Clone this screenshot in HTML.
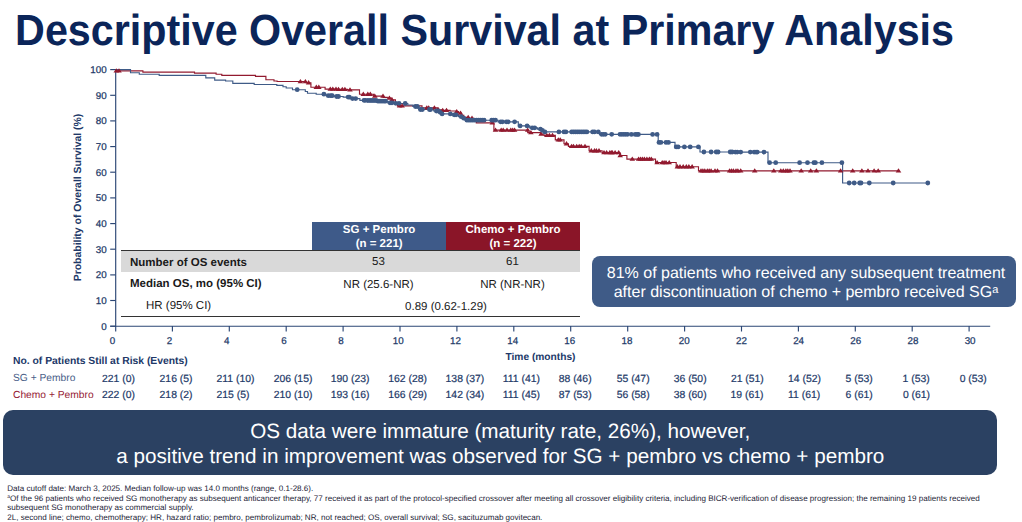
<!DOCTYPE html>
<html><head><meta charset="utf-8">
<style>
html,body{margin:0;padding:0;background:#fff;}
body{text-rendering:geometricPrecision;width:1022px;height:522px;position:relative;overflow:hidden;font-family:"Liberation Sans",sans-serif;}
.abs{position:absolute;white-space:nowrap;}
.title{left:15.1px;top:6.6px;font-size:41.27px;font-weight:bold;color:#0b2559;line-height:48px;letter-spacing:0px;transform-origin:0 38.35px;transform:scaleY(1.055);}
.yt{-webkit-text-stroke:0.25px #223968;position:absolute;left:69.6px;width:37px;text-align:right;font-size:9.8px;line-height:11px;color:#223968;}
.xt{-webkit-text-stroke:0.25px #223968;position:absolute;top:335.9px;width:30px;text-align:center;font-size:9.8px;line-height:11px;color:#223968;}
.rk{-webkit-text-stroke:0.2px #223968;position:absolute;text-align:left;font-size:10.4px;line-height:11px;color:#223968;white-space:nowrap;}
.ylab{position:absolute;left:0;top:0;transform-origin:0 0;transform:translate(72.5px,281.3px) rotate(-90deg);font-size:10.45px;font-weight:bold;color:#213868;white-space:nowrap;line-height:11px;}
</style></head><body>
<div class="abs title">Descriptive Overall Survival at Primary Analysis</div>
<svg width="1022" height="522" style="position:absolute;left:0;top:0"><g stroke="#2c4775" stroke-width="1.15" fill="none"><path d="M115.7,68.9 V331.5 M110.2,326.2 H990.2"/><path d="M110.2,326.2 H115.5"/><path d="M110.2,300.5 H115.5"/><path d="M110.2,274.9 H115.5"/><path d="M110.2,249.2 H115.5"/><path d="M110.2,223.6 H115.5"/><path d="M110.2,197.9 H115.5"/><path d="M110.2,172.2 H115.5"/><path d="M110.2,146.6 H115.5"/><path d="M110.2,120.9 H115.5"/><path d="M110.2,95.3 H115.5"/><path d="M110.2,69.6 H115.5"/><path d="M172.4,326 V331.5"/><path d="M229.3,326 V331.5"/><path d="M286.2,326 V331.5"/><path d="M343.1,326 V331.5"/><path d="M400.0,326 V331.5"/><path d="M456.9,326 V331.5"/><path d="M513.8,326 V331.5"/><path d="M570.7,326 V331.5"/><path d="M627.7,326 V331.5"/><path d="M684.6,326 V331.5"/><path d="M741.5,326 V331.5"/><path d="M798.4,326 V331.5"/><path d="M855.3,326 V331.5"/><path d="M912.2,326 V331.5"/><path d="M969.1,326 V331.5"/></g><path d="M115.7,70.8 L142.5,70.8 L142.9,70.8 L142.9,72.1 L143.4,72.1 L194.4,72.1 L194.5,72.1 L194.5,73.1 L194.6,73.1 L216.0,73.1 L216.1,73.1 L216.1,74.2 L216.2,74.2 L221.7,74.2 L221.8,74.2 L221.8,75.3 L221.9,75.3 L255.4,75.3 L255.5,75.3 L255.5,76.3 L255.6,76.3 L265.0,76.3 L265.9,76.3 L265.9,79.7 L266.9,79.7 L273.9,79.7 L274.0,79.7 L274.0,81.0 L274.1,81.0 L277.1,81.0 L277.1,81.5 L280.0,81.5 L306.0,81.5 L306.1,81.5 L306.1,82.7 L306.2,82.7 L310.0,82.7 L310.9,82.7 L310.9,87.2 L311.8,87.2 L322.0,87.2 L325.1,87.2 L325.1,89.1 L328.3,89.1 L336.6,89.1 L336.6,89.4 L345.0,89.4 L347.5,89.4 L347.5,89.9 L350.0,89.9 L357.6,89.9 L359.5,89.9 L359.5,94.2 L361.4,94.2 L372.0,94.2 L373.7,94.2 L373.7,96.1 L375.4,96.1 L380.5,96.1 L383.1,96.1 L383.1,97.3 L385.6,97.3 L387.3,97.3 L387.3,98.0 L389.0,98.0 L391.8,98.0 L391.8,99.9 L394.5,99.9 L395.4,99.9 L395.4,103.1 L396.4,103.1 L397.4,103.1 L397.4,105.9 L398.3,105.9 L421.7,105.9 L422.0,105.9 L422.0,107.8 L422.4,107.8 L437.0,107.8 L437.5,107.8 L437.5,109.7 L438.0,109.7 L441.5,109.7 L441.5,110.4 L445.0,110.4 L449.7,110.4 L450.1,110.4 L450.1,111.0 L450.5,111.0 L456.0,111.0 L456.5,111.0 L456.5,111.6 L457.0,111.6 L458.5,111.6 L458.5,113.0 L460.0,113.0 L461.2,113.0 L461.2,115.2 L462.5,115.2 L463.8,115.2 L463.8,117.4 L465.0,117.4 L468.5,117.4 L468.5,118.2 L472.0,118.2 L473.4,118.2 L473.4,120.5 L474.9,120.5 L476.3,120.5 L476.3,122.8 L477.7,122.8 L492.3,122.8 L493.9,122.8 L493.9,130.1 L495.5,130.1 L526.4,130.1 L527.7,130.1 L527.7,132.6 L529.0,132.6 L539.2,132.6 L540.8,132.6 L540.8,134.0 L542.4,134.0 L543.9,134.0 L543.9,135.4 L545.5,135.4 L554.4,135.4 L555.3,135.4 L555.3,139.9 L556.3,139.9 L562.7,139.9 L564.0,139.9 L564.0,143.7 L565.3,143.7 L567.0,143.7 L568.4,143.7 L568.4,146.3 L569.7,146.3 L588.2,146.3 L589.1,146.3 L589.1,150.7 L590.0,150.7 L601.5,150.7 L602.1,150.7 L602.1,152.6 L602.8,152.6 L619.3,152.6 L619.8,152.6 L619.8,155.5 L620.2,155.5 L626.5,155.5 L626.9,155.5 L626.9,159.1 L627.2,159.1 L655.2,159.1 L655.5,159.1 L655.5,162.5 L655.8,162.5 L676.2,162.5 L676.2,162.5 L676.2,166.7 L676.3,166.7 L698.4,166.7 L698.5,166.7 L698.5,170.9 L698.5,170.9 L899.5,170.9" stroke="#921a2f" stroke-width="1.15" fill="none" stroke-linejoin="miter"/><path d="M115.7,69.6 L129.0,69.6 L130.5,69.6 L130.5,72.7 L132.0,72.7 L138.6,72.7 L139.3,72.7 L139.3,74.2 L140.0,74.2 L158.3,74.2 L159.2,74.2 L159.2,75.3 L160.2,75.3 L203.9,75.3 L205.8,75.3 L205.8,77.8 L207.7,77.8 L213.4,77.8 L214.7,77.8 L214.7,80.1 L216.0,80.1 L224.9,80.1 L225.6,80.1 L225.6,81.0 L226.2,81.0 L231.2,81.0 L232.8,81.0 L232.8,83.3 L234.4,83.3 L253.5,83.3 L254.2,83.3 L254.2,84.5 L254.8,84.5 L275.8,84.5 L276.8,84.5 L276.8,85.4 L277.7,85.4 L282.0,85.4 L283.0,85.4 L283.0,86.7 L284.0,86.7 L286.2,86.7 L286.2,88.0 L288.5,88.0 L292.5,88.0 L292.5,89.7 L296.5,89.7 L304.2,89.7 L305.3,89.7 L305.3,91.5 L306.4,91.5 L307.5,91.5 L307.5,93.2 L308.6,93.2 L316.2,93.2 L316.2,94.2 L323.9,94.2 L326.1,94.2 L326.1,95.7 L328.3,95.7 L332.2,95.7 L334.4,95.7 L334.4,96.5 L336.6,96.5 L338.5,96.5 L343.2,96.5 L343.2,97.1 L348.0,97.1 L350.2,97.1 L350.2,98.6 L352.5,98.6 L355.7,98.6 L359.9,98.6 L359.9,100.3 L364.0,100.3 L365.9,100.3 L365.9,100.5 L367.8,100.5 L376.7,100.5 L376.7,101.2 L385.6,101.2 L387.8,101.2 L387.8,102.8 L390.0,102.8 L392.9,102.8 L392.9,103.3 L395.8,103.3 L400.5,103.3 L400.5,103.5 L405.2,103.5 L407.8,103.5 L407.8,105.0 L410.3,105.0 L412.8,105.0 L412.8,106.5 L415.4,106.5 L417.3,106.5 L418.9,106.5 L418.9,109.5 L420.4,109.5 L431.0,109.5 L433.7,109.5 L433.7,111.0 L436.4,111.0 L438.3,111.0 L439.2,111.0 L439.2,112.3 L440.2,112.3 L441.1,112.3 L441.1,113.9 L442.1,113.9 L450.3,113.9 L452.2,113.9 L452.2,114.8 L454.2,114.8 L456.1,114.8 L458.6,114.8 L458.6,116.7 L461.2,116.7 L462.4,116.7 L462.4,118.2 L463.7,118.2 L465.3,118.2 L465.3,120.2 L466.9,120.2 L495.5,120.2 L498.1,120.2 L498.1,121.8 L500.6,121.8 L516.5,121.8 L518.3,121.8 L518.3,125.9 L520.1,125.9 L527.1,125.9 L529.7,125.9 L529.7,127.8 L532.2,127.8 L534.7,127.8 L537.5,127.8 L537.5,129.1 L540.4,129.1 L541.4,129.1 L541.4,130.4 L542.4,130.4 L543.6,130.4 L543.6,131.9 L544.9,131.9 L598.3,131.9 L599.6,131.9 L599.6,134.3 L600.9,134.3 L629.5,134.3 L629.5,134.4 L658.1,134.4 L658.2,134.4 L658.2,142.4 L658.2,142.4 L674.9,142.4 L675.0,142.4 L675.0,146.9 L675.0,146.9 L699.0,146.9 L700.0,146.9 L700.0,152.0 L701.0,152.0 L734.4,152.0 L734.4,152.1 L767.8,152.1 L768.0,152.1 L768.0,162.7 L768.3,162.7 L842.2,162.7 L842.6,162.7 L842.6,183.0 L842.9,183.0 L927.8,183.0" stroke="#3f5b87" stroke-width="1.15" fill="none" stroke-linejoin="miter"/><path d="M113.5,72.5 L119.1,72.5 L116.3,68.2 Z" fill="#921a2f"/><path d="M116.2,72.5 L121.8,72.5 L119.0,68.2 Z" fill="#921a2f"/><path d="M297.6,83.2 L303.2,83.2 L300.4,78.9 Z" fill="#921a2f"/><path d="M302.6,83.2 L308.2,83.2 L305.4,78.9 Z" fill="#921a2f"/><path d="M305.8,84.4 L311.4,84.4 L308.6,80.1 Z" fill="#921a2f"/><path d="M313.5,88.9 L319.1,88.9 L316.3,84.6 Z" fill="#921a2f"/><path d="M316.0,88.9 L321.6,88.9 L318.8,84.6 Z" fill="#921a2f"/><path d="M327.5,90.8 L333.1,90.8 L330.3,86.5 Z" fill="#921a2f"/><path d="M330.0,90.8 L335.6,90.8 L332.8,86.5 Z" fill="#921a2f"/><path d="M333.2,90.8 L338.8,90.8 L336.0,86.5 Z" fill="#921a2f"/><path d="M335.7,91.1 L341.3,91.1 L338.5,86.8 Z" fill="#921a2f"/><path d="M339.5,91.1 L345.1,91.1 L342.3,86.8 Z" fill="#921a2f"/><path d="M342.1,91.1 L347.7,91.1 L344.9,86.8 Z" fill="#921a2f"/><path d="M347.2,91.6 L352.8,91.6 L350.0,87.3 Z" fill="#921a2f"/><path d="M360.5,95.9 L366.1,95.9 L363.3,91.6 Z" fill="#921a2f"/><path d="M365.0,95.9 L370.6,95.9 L367.8,91.6 Z" fill="#921a2f"/><path d="M367.5,95.9 L373.1,95.9 L370.3,91.6 Z" fill="#921a2f"/><path d="M372.0,97.8 L377.6,97.8 L374.8,93.5 Z" fill="#921a2f"/><path d="M380.2,97.8 L385.8,97.8 L383.0,93.5 Z" fill="#921a2f"/><path d="M386.6,99.7 L392.2,99.7 L389.4,95.4 Z" fill="#921a2f"/><path d="M389.2,101.6 L394.8,101.6 L392.0,97.3 Z" fill="#921a2f"/><path d="M396.8,107.6 L402.4,107.6 L399.6,103.3 Z" fill="#921a2f"/><path d="M399.3,107.6 L404.9,107.6 L402.1,103.3 Z" fill="#921a2f"/><path d="M424.0,109.5 L429.6,109.5 L426.8,105.2 Z" fill="#921a2f"/><path d="M425.9,109.5 L431.5,109.5 L428.7,105.2 Z" fill="#921a2f"/><path d="M431.6,109.5 L437.2,109.5 L434.4,105.2 Z" fill="#921a2f"/><path d="M435.5,111.4 L441.1,111.4 L438.3,107.1 Z" fill="#921a2f"/><path d="M439.9,112.1 L445.5,112.1 L442.7,107.8 Z" fill="#921a2f"/><path d="M443.7,112.1 L449.3,112.1 L446.5,107.8 Z" fill="#921a2f"/><path d="M453.9,113.3 L459.5,113.3 L456.7,109.0 Z" fill="#921a2f"/><path d="M457.7,114.7 L463.3,114.7 L460.5,110.4 Z" fill="#921a2f"/><path d="M465.4,119.1 L471.0,119.1 L468.2,114.8 Z" fill="#921a2f"/><path d="M469.2,119.9 L474.8,119.9 L472.0,115.6 Z" fill="#921a2f"/><path d="M489.5,124.5 L495.1,124.5 L492.3,120.2 Z" fill="#921a2f"/><path d="M492.7,131.8 L498.3,131.8 L495.5,127.5 Z" fill="#921a2f"/><path d="M498.4,131.8 L504.0,131.8 L501.2,127.5 Z" fill="#921a2f"/><path d="M500.4,131.8 L506.0,131.8 L503.2,127.5 Z" fill="#921a2f"/><path d="M504.2,131.8 L509.8,131.8 L507.0,127.5 Z" fill="#921a2f"/><path d="M508.0,131.8 L513.6,131.8 L510.8,127.5 Z" fill="#921a2f"/><path d="M509.9,131.8 L515.5,131.8 L512.7,127.5 Z" fill="#921a2f"/><path d="M511.8,131.8 L517.4,131.8 L514.6,127.5 Z" fill="#921a2f"/><path d="M524.9,131.8 L530.5,131.8 L527.7,127.5 Z" fill="#921a2f"/><path d="M528.1,134.3 L533.7,134.3 L530.9,130.0 Z" fill="#921a2f"/><path d="M538.3,135.7 L543.9,135.7 L541.1,131.4 Z" fill="#921a2f"/><path d="M544.0,137.1 L549.6,137.1 L546.8,132.8 Z" fill="#921a2f"/><path d="M546.6,137.1 L552.2,137.1 L549.4,132.8 Z" fill="#921a2f"/><path d="M549.7,137.1 L555.3,137.1 L552.5,132.8 Z" fill="#921a2f"/><path d="M555.5,141.6 L561.1,141.6 L558.3,137.3 Z" fill="#921a2f"/><path d="M557.4,141.6 L563.0,141.6 L560.2,137.3 Z" fill="#921a2f"/><path d="M563.7,145.4 L569.3,145.4 L566.5,141.1 Z" fill="#921a2f"/><path d="M568.8,148.0 L574.4,148.0 L571.6,143.7 Z" fill="#921a2f"/><path d="M570.7,148.0 L576.3,148.0 L573.5,143.7 Z" fill="#921a2f"/><path d="M573.9,148.0 L579.5,148.0 L576.7,143.7 Z" fill="#921a2f"/><path d="M576.4,148.0 L582.0,148.0 L579.2,143.7 Z" fill="#921a2f"/><path d="M578.4,148.0 L584.0,148.0 L581.2,143.7 Z" fill="#921a2f"/><path d="M582.2,148.0 L587.8,148.0 L585.0,143.7 Z" fill="#921a2f"/><path d="M588.5,152.4 L594.1,152.4 L591.3,148.1 Z" fill="#921a2f"/><path d="M591.7,152.4 L597.3,152.4 L594.5,148.1 Z" fill="#921a2f"/><path d="M593.6,152.4 L599.2,152.4 L596.4,148.1 Z" fill="#921a2f"/><path d="M596.2,152.4 L601.8,152.4 L599.0,148.1 Z" fill="#921a2f"/><path d="M601.2,154.3 L606.8,154.3 L604.0,150.0 Z" fill="#921a2f"/><path d="M603.8,154.3 L609.4,154.3 L606.6,150.0 Z" fill="#921a2f"/><path d="M607.0,154.3 L612.6,154.3 L609.8,150.0 Z" fill="#921a2f"/><path d="M609.5,154.3 L615.1,154.3 L612.3,150.0 Z" fill="#921a2f"/><path d="M615.9,154.3 L621.5,154.3 L618.7,150.0 Z" fill="#921a2f"/><path d="M608.5,154.3 L614.1,154.3 L611.3,150.0 Z" fill="#921a2f"/><path d="M612.3,154.3 L617.9,154.3 L615.1,150.0 Z" fill="#921a2f"/><path d="M617.4,157.2 L623.0,157.2 L620.2,152.9 Z" fill="#921a2f"/><path d="M629.5,160.8 L635.1,160.8 L632.3,156.5 Z" fill="#921a2f"/><path d="M635.8,160.8 L641.4,160.8 L638.6,156.5 Z" fill="#921a2f"/><path d="M637.7,160.8 L643.3,160.8 L640.5,156.5 Z" fill="#921a2f"/><path d="M639.6,160.8 L645.2,160.8 L642.4,156.5 Z" fill="#921a2f"/><path d="M641.6,160.8 L647.2,160.8 L644.4,156.5 Z" fill="#921a2f"/><path d="M644.1,160.8 L649.7,160.8 L646.9,156.5 Z" fill="#921a2f"/><path d="M646.6,160.8 L652.2,160.8 L649.4,156.5 Z" fill="#921a2f"/><path d="M648.5,160.8 L654.1,160.8 L651.3,156.5 Z" fill="#921a2f"/><path d="M654.3,164.2 L659.9,164.2 L657.1,159.9 Z" fill="#921a2f"/><path d="M659.4,164.2 L665.0,164.2 L662.2,159.9 Z" fill="#921a2f"/><path d="M661.3,164.2 L666.9,164.2 L664.1,159.9 Z" fill="#921a2f"/><path d="M663.2,164.2 L668.8,164.2 L666.0,159.9 Z" fill="#921a2f"/><path d="M666.4,164.2 L672.0,164.2 L669.2,159.9 Z" fill="#921a2f"/><path d="M674.6,168.4 L680.2,168.4 L677.4,164.1 Z" fill="#921a2f"/><path d="M677.2,168.4 L682.8,168.4 L680.0,164.1 Z" fill="#921a2f"/><path d="M680.4,168.4 L686.0,168.4 L683.2,164.1 Z" fill="#921a2f"/><path d="M683.5,168.4 L689.1,168.4 L686.3,164.1 Z" fill="#921a2f"/><path d="M686.1,168.4 L691.7,168.4 L688.9,164.1 Z" fill="#921a2f"/><path d="M689.3,168.4 L694.9,168.4 L692.1,164.1 Z" fill="#921a2f"/><path d="M698.2,172.6 L703.8,172.6 L701.0,168.3 Z" fill="#921a2f"/><path d="M700.1,172.6 L705.7,172.6 L702.9,168.3 Z" fill="#921a2f"/><path d="M702.0,172.6 L707.6,172.6 L704.8,168.3 Z" fill="#921a2f"/><path d="M704.5,172.6 L710.1,172.6 L707.3,168.3 Z" fill="#921a2f"/><path d="M706.4,172.6 L712.0,172.6 L709.2,168.3 Z" fill="#921a2f"/><path d="M708.3,172.6 L713.9,172.6 L711.1,168.3 Z" fill="#921a2f"/><path d="M712.2,172.6 L717.8,172.6 L715.0,168.3 Z" fill="#921a2f"/><path d="M714.7,172.6 L720.3,172.6 L717.5,168.3 Z" fill="#921a2f"/><path d="M726.8,172.6 L732.4,172.6 L729.6,168.3 Z" fill="#921a2f"/><path d="M728.7,172.6 L734.3,172.6 L731.5,168.3 Z" fill="#921a2f"/><path d="M730.6,172.6 L736.2,172.6 L733.4,168.3 Z" fill="#921a2f"/><path d="M733.2,172.6 L738.8,172.6 L736.0,168.3 Z" fill="#921a2f"/><path d="M735.1,172.6 L740.7,172.6 L737.9,168.3 Z" fill="#921a2f"/><path d="M737.9,172.6 L743.5,172.6 L740.7,168.3 Z" fill="#921a2f"/><path d="M751.9,172.6 L757.5,172.6 L754.7,168.3 Z" fill="#921a2f"/><path d="M771.0,172.6 L776.6,172.6 L773.8,168.3 Z" fill="#921a2f"/><path d="M778.0,172.6 L783.6,172.6 L780.8,168.3 Z" fill="#921a2f"/><path d="M780.5,172.6 L786.1,172.6 L783.3,168.3 Z" fill="#921a2f"/><path d="M783.1,172.6 L788.7,172.6 L785.9,168.3 Z" fill="#921a2f"/><path d="M785.0,172.6 L790.6,172.6 L787.8,168.3 Z" fill="#921a2f"/><path d="M787.2,172.6 L792.8,172.6 L790.0,168.3 Z" fill="#921a2f"/><path d="M798.4,172.6 L804.0,172.6 L801.2,168.3 Z" fill="#921a2f"/><path d="M807.9,172.6 L813.5,172.6 L810.7,168.3 Z" fill="#921a2f"/><path d="M813.6,172.6 L819.2,172.6 L816.4,168.3 Z" fill="#921a2f"/><path d="M837.8,172.6 L843.4,172.6 L840.6,168.3 Z" fill="#921a2f"/><path d="M849.9,172.6 L855.5,172.6 L852.7,168.3 Z" fill="#921a2f"/><path d="M859.1,172.6 L864.7,172.6 L861.9,168.3 Z" fill="#921a2f"/><path d="M865.2,172.6 L870.8,172.6 L868.0,168.3 Z" fill="#921a2f"/><path d="M871.3,172.6 L876.9,172.6 L874.1,168.3 Z" fill="#921a2f"/><path d="M875.4,172.6 L881.0,172.6 L878.2,168.3 Z" fill="#921a2f"/><path d="M895.7,172.6 L901.3,172.6 L898.5,168.3 Z" fill="#921a2f"/><circle cx="297.2" cy="89.7" r="2.4" fill="#3f5b87"/><circle cx="323.9" cy="94.2" r="2.4" fill="#3f5b87"/><circle cx="328.3" cy="95.7" r="2.4" fill="#3f5b87"/><circle cx="330.9" cy="95.7" r="2.4" fill="#3f5b87"/><circle cx="332.2" cy="95.7" r="2.4" fill="#3f5b87"/><circle cx="336.6" cy="96.5" r="2.4" fill="#3f5b87"/><circle cx="338.5" cy="96.5" r="2.4" fill="#3f5b87"/><circle cx="348.1" cy="97.1" r="2.4" fill="#3f5b87"/><circle cx="349.3" cy="97.1" r="2.4" fill="#3f5b87"/><circle cx="352.5" cy="98.6" r="2.4" fill="#3f5b87"/><circle cx="355.7" cy="98.6" r="2.4" fill="#3f5b87"/><circle cx="364.0" cy="100.3" r="2.4" fill="#3f5b87"/><circle cx="365.2" cy="100.3" r="2.4" fill="#3f5b87"/><circle cx="367.8" cy="100.5" r="2.4" fill="#3f5b87"/><circle cx="370.0" cy="100.5" r="2.4" fill="#3f5b87"/><circle cx="372.0" cy="100.5" r="2.4" fill="#3f5b87"/><circle cx="374.0" cy="100.5" r="2.4" fill="#3f5b87"/><circle cx="376.0" cy="100.5" r="2.4" fill="#3f5b87"/><circle cx="378.0" cy="101.2" r="2.4" fill="#3f5b87"/><circle cx="380.0" cy="101.2" r="2.4" fill="#3f5b87"/><circle cx="382.0" cy="101.2" r="2.4" fill="#3f5b87"/><circle cx="384.0" cy="101.2" r="2.4" fill="#3f5b87"/><circle cx="385.6" cy="101.2" r="2.4" fill="#3f5b87"/><circle cx="390.0" cy="102.8" r="2.4" fill="#3f5b87"/><circle cx="392.0" cy="102.8" r="2.4" fill="#3f5b87"/><circle cx="395.8" cy="103.3" r="2.4" fill="#3f5b87"/><circle cx="399.0" cy="103.3" r="2.4" fill="#3f5b87"/><circle cx="405.2" cy="103.5" r="2.4" fill="#3f5b87"/><circle cx="415.4" cy="106.5" r="2.4" fill="#3f5b87"/><circle cx="417.3" cy="106.5" r="2.4" fill="#3f5b87"/><circle cx="420.4" cy="109.5" r="2.4" fill="#3f5b87"/><circle cx="422.4" cy="109.5" r="2.4" fill="#3f5b87"/><circle cx="429.4" cy="109.5" r="2.4" fill="#3f5b87"/><circle cx="430.6" cy="109.5" r="2.4" fill="#3f5b87"/><circle cx="436.4" cy="111.0" r="2.4" fill="#3f5b87"/><circle cx="438.3" cy="111.0" r="2.4" fill="#3f5b87"/><circle cx="440.2" cy="112.3" r="2.4" fill="#3f5b87"/><circle cx="442.1" cy="113.9" r="2.4" fill="#3f5b87"/><circle cx="450.3" cy="113.9" r="2.4" fill="#3f5b87"/><circle cx="454.2" cy="114.8" r="2.4" fill="#3f5b87"/><circle cx="456.1" cy="114.8" r="2.4" fill="#3f5b87"/><circle cx="461.2" cy="116.7" r="2.4" fill="#3f5b87"/><circle cx="463.7" cy="118.2" r="2.4" fill="#3f5b87"/><circle cx="466.9" cy="120.2" r="2.4" fill="#3f5b87"/><circle cx="468.8" cy="120.2" r="2.4" fill="#3f5b87"/><circle cx="470.7" cy="120.2" r="2.4" fill="#3f5b87"/><circle cx="472.6" cy="120.2" r="2.4" fill="#3f5b87"/><circle cx="474.5" cy="120.2" r="2.4" fill="#3f5b87"/><circle cx="476.4" cy="120.2" r="2.4" fill="#3f5b87"/><circle cx="478.3" cy="120.2" r="2.4" fill="#3f5b87"/><circle cx="480.2" cy="120.2" r="2.4" fill="#3f5b87"/><circle cx="482.2" cy="120.2" r="2.4" fill="#3f5b87"/><circle cx="484.1" cy="120.2" r="2.4" fill="#3f5b87"/><circle cx="491.7" cy="120.2" r="2.4" fill="#3f5b87"/><circle cx="493.6" cy="120.2" r="2.4" fill="#3f5b87"/><circle cx="495.5" cy="120.2" r="2.4" fill="#3f5b87"/><circle cx="500.6" cy="121.8" r="2.4" fill="#3f5b87"/><circle cx="502.5" cy="121.8" r="2.4" fill="#3f5b87"/><circle cx="506.3" cy="121.8" r="2.4" fill="#3f5b87"/><circle cx="508.2" cy="121.8" r="2.4" fill="#3f5b87"/><circle cx="514.6" cy="121.8" r="2.4" fill="#3f5b87"/><circle cx="520.1" cy="125.9" r="2.4" fill="#3f5b87"/><circle cx="527.1" cy="125.9" r="2.4" fill="#3f5b87"/><circle cx="532.2" cy="127.8" r="2.4" fill="#3f5b87"/><circle cx="534.7" cy="127.8" r="2.4" fill="#3f5b87"/><circle cx="540.4" cy="129.1" r="2.4" fill="#3f5b87"/><circle cx="542.4" cy="130.4" r="2.4" fill="#3f5b87"/><circle cx="544.9" cy="131.9" r="2.4" fill="#3f5b87"/><circle cx="558.9" cy="131.9" r="2.4" fill="#3f5b87"/><circle cx="564.0" cy="131.9" r="2.4" fill="#3f5b87"/><circle cx="565.9" cy="131.9" r="2.4" fill="#3f5b87"/><circle cx="571.6" cy="131.9" r="2.4" fill="#3f5b87"/><circle cx="573.5" cy="131.9" r="2.4" fill="#3f5b87"/><circle cx="575.4" cy="131.9" r="2.4" fill="#3f5b87"/><circle cx="577.3" cy="131.9" r="2.4" fill="#3f5b87"/><circle cx="579.2" cy="131.9" r="2.4" fill="#3f5b87"/><circle cx="581.2" cy="131.9" r="2.4" fill="#3f5b87"/><circle cx="583.1" cy="131.9" r="2.4" fill="#3f5b87"/><circle cx="585.0" cy="131.9" r="2.4" fill="#3f5b87"/><circle cx="586.9" cy="131.9" r="2.4" fill="#3f5b87"/><circle cx="592.6" cy="131.9" r="2.4" fill="#3f5b87"/><circle cx="594.5" cy="131.9" r="2.4" fill="#3f5b87"/><circle cx="598.3" cy="131.9" r="2.4" fill="#3f5b87"/><circle cx="601.5" cy="134.3" r="2.4" fill="#3f5b87"/><circle cx="603.4" cy="134.3" r="2.4" fill="#3f5b87"/><circle cx="605.3" cy="134.3" r="2.4" fill="#3f5b87"/><circle cx="611.7" cy="134.3" r="2.4" fill="#3f5b87"/><circle cx="620.0" cy="134.3" r="2.4" fill="#3f5b87"/><circle cx="621.9" cy="134.3" r="2.4" fill="#3f5b87"/><circle cx="623.8" cy="134.3" r="2.4" fill="#3f5b87"/><circle cx="625.7" cy="134.3" r="2.4" fill="#3f5b87"/><circle cx="627.6" cy="134.3" r="2.4" fill="#3f5b87"/><circle cx="631.4" cy="134.4" r="2.4" fill="#3f5b87"/><circle cx="635.2" cy="134.4" r="2.4" fill="#3f5b87"/><circle cx="637.1" cy="134.4" r="2.4" fill="#3f5b87"/><circle cx="638.4" cy="134.4" r="2.4" fill="#3f5b87"/><circle cx="652.6" cy="134.4" r="2.4" fill="#3f5b87"/><circle cx="657.1" cy="134.4" r="2.4" fill="#3f5b87"/><circle cx="659.0" cy="142.4" r="2.4" fill="#3f5b87"/><circle cx="660.9" cy="142.4" r="2.4" fill="#3f5b87"/><circle cx="666.0" cy="142.4" r="2.4" fill="#3f5b87"/><circle cx="668.5" cy="142.4" r="2.4" fill="#3f5b87"/><circle cx="676.2" cy="146.9" r="2.4" fill="#3f5b87"/><circle cx="678.1" cy="146.9" r="2.4" fill="#3f5b87"/><circle cx="684.4" cy="146.9" r="2.4" fill="#3f5b87"/><circle cx="690.2" cy="146.9" r="2.4" fill="#3f5b87"/><circle cx="698.4" cy="146.9" r="2.4" fill="#3f5b87"/><circle cx="703.9" cy="152.0" r="2.4" fill="#3f5b87"/><circle cx="711.1" cy="152.0" r="2.4" fill="#3f5b87"/><circle cx="716.2" cy="152.0" r="2.4" fill="#3f5b87"/><circle cx="718.1" cy="152.0" r="2.4" fill="#3f5b87"/><circle cx="730.2" cy="152.0" r="2.4" fill="#3f5b87"/><circle cx="732.1" cy="152.0" r="2.4" fill="#3f5b87"/><circle cx="735.3" cy="152.1" r="2.4" fill="#3f5b87"/><circle cx="737.2" cy="152.1" r="2.4" fill="#3f5b87"/><circle cx="740.7" cy="152.1" r="2.4" fill="#3f5b87"/><circle cx="750.3" cy="152.1" r="2.4" fill="#3f5b87"/><circle cx="754.1" cy="152.1" r="2.4" fill="#3f5b87"/><circle cx="756.0" cy="152.1" r="2.4" fill="#3f5b87"/><circle cx="757.3" cy="152.1" r="2.4" fill="#3f5b87"/><circle cx="764.0" cy="152.1" r="2.4" fill="#3f5b87"/><circle cx="769.6" cy="162.7" r="2.4" fill="#3f5b87"/><circle cx="775.7" cy="162.7" r="2.4" fill="#3f5b87"/><circle cx="799.6" cy="162.7" r="2.4" fill="#3f5b87"/><circle cx="807.5" cy="162.7" r="2.4" fill="#3f5b87"/><circle cx="813.9" cy="162.7" r="2.4" fill="#3f5b87"/><circle cx="815.4" cy="162.7" r="2.4" fill="#3f5b87"/><circle cx="821.9" cy="162.7" r="2.4" fill="#3f5b87"/><circle cx="841.9" cy="162.7" r="2.4" fill="#3f5b87"/><circle cx="849.2" cy="183.0" r="2.4" fill="#3f5b87"/><circle cx="854.2" cy="183.0" r="2.4" fill="#3f5b87"/><circle cx="859.7" cy="183.0" r="2.4" fill="#3f5b87"/><circle cx="861.0" cy="183.0" r="2.4" fill="#3f5b87"/><circle cx="869.3" cy="183.0" r="2.4" fill="#3f5b87"/><circle cx="893.2" cy="183.0" r="2.4" fill="#3f5b87"/><circle cx="927.8" cy="183.0" r="2.4" fill="#3f5b87"/></svg>
<div class="yt" style="top:321.6px">0</div><div class="yt" style="top:295.9px">10</div><div class="yt" style="top:270.3px">20</div><div class="yt" style="top:244.6px">30</div><div class="yt" style="top:219.0px">40</div><div class="yt" style="top:193.3px">50</div><div class="yt" style="top:167.6px">60</div><div class="yt" style="top:142.0px">70</div><div class="yt" style="top:116.3px">80</div><div class="yt" style="top:90.7px">90</div><div class="yt" style="top:65.0px">100</div><div class="xt" style="left:97.4px">0</div><div class="xt" style="left:154.6px">2</div><div class="xt" style="left:211.8px">4</div><div class="xt" style="left:268.9px">6</div><div class="xt" style="left:326.1px">8</div><div class="xt" style="left:383.3px">10</div><div class="xt" style="left:440.5px">12</div><div class="xt" style="left:497.7px">14</div><div class="xt" style="left:554.8px">16</div><div class="xt" style="left:612.0px">18</div><div class="xt" style="left:669.2px">20</div><div class="xt" style="left:726.4px">22</div><div class="xt" style="left:783.6px">24</div><div class="xt" style="left:840.7px">26</div><div class="xt" style="left:897.9px">28</div><div class="xt" style="left:955.1px">30</div>
<div class="ylab">Probability of Overall Survival (%)</div>
<div class="abs" style="left:13px;top:355.9px;font-size:10.35px;font-weight:bold;color:#213868;line-height:11px;">No. of Patients Still at Risk (Events)</div>
<div class="abs" style="left:13px;top:373px;font-size:10.25px;color:#4a6088;line-height:11px;">SG + Pembro</div>
<div class="abs" style="left:13px;top:389.5px;font-size:10.25px;color:#961b35;line-height:11px;">Chemo + Pembro</div>
<div class="abs" style="left:505.5px;top:351.6px;font-size:10.2px;font-weight:bold;color:#213868;line-height:11px;">Time (months)</div>
<div class="rk" style="left:102.0px;top:373.7px">221 (0)</div><div class="rk" style="left:159.6px;top:373.7px">216 (5)</div><div class="rk" style="left:216.5px;top:373.7px">211 (10)</div><div class="rk" style="left:273.7px;top:373.7px">206 (15)</div><div class="rk" style="left:330.8px;top:373.7px">190 (23)</div><div class="rk" style="left:388.3px;top:373.7px">162 (28)</div><div class="rk" style="left:445.6px;top:373.7px">138 (37)</div><div class="rk" style="left:502.8px;top:373.7px">111 (41)</div><div class="rk" style="left:558.7px;top:373.7px">88 (46)</div><div class="rk" style="left:616.7px;top:373.7px">55 (47)</div><div class="rk" style="left:673.7px;top:373.7px">36 (50)</div><div class="rk" style="left:730.9px;top:373.7px">21 (51)</div><div class="rk" style="left:788.0px;top:373.7px">14 (52)</div><div class="rk" style="left:845.6px;top:373.7px">5 (53)</div><div class="rk" style="left:902.5px;top:373.7px">1 (53)</div><div class="rk" style="left:959.7px;top:373.7px">0 (53)</div><div class="rk" style="left:102.0px;top:390.1px">222 (0)</div><div class="rk" style="left:159.6px;top:390.1px">218 (2)</div><div class="rk" style="left:216.5px;top:390.1px">215 (5)</div><div class="rk" style="left:273.7px;top:390.1px">210 (10)</div><div class="rk" style="left:330.8px;top:390.1px">193 (16)</div><div class="rk" style="left:388.3px;top:390.1px">166 (29)</div><div class="rk" style="left:445.6px;top:390.1px">142 (34)</div><div class="rk" style="left:502.8px;top:390.1px">111 (45)</div><div class="rk" style="left:558.7px;top:390.1px">87 (53)</div><div class="rk" style="left:616.7px;top:390.1px">56 (58)</div><div class="rk" style="left:673.7px;top:390.1px">38 (60)</div><div class="rk" style="left:730.5px;top:390.1px">19 (61)</div><div class="rk" style="left:788.0px;top:390.1px">11 (61)</div><div class="rk" style="left:845.6px;top:390.1px">6 (61)</div><div class="rk" style="left:902.9px;top:390.1px">0 (61)</div>

<!-- table -->
<div class="abs" style="left:121.2px;top:249.5px;width:458.8px;height:1.5px;background:#333;"></div>
<div class="abs" style="left:121.2px;top:251px;width:458.8px;height:20.7px;background:#d9d9d9;"></div>
<div class="abs" style="left:121.2px;top:315.8px;width:458.8px;height:1.6px;background:#333;"></div>
<div class="abs" style="left:312.3px;top:222.2px;width:133.7px;height:27.6px;background:#3e5a89;"></div>
<div class="abs" style="left:446px;top:222.2px;width:134px;height:27.6px;background:#8a1528;"></div>
<div class="abs th" style="left:312.3px;top:223.1px;width:133.7px;text-align:center;color:#fff;font-weight:bold;font-size:11.5px;line-height:14.1px;">SG + Pembro<br>(n = 221)</div>
<div class="abs th" style="left:446px;top:223.1px;width:134px;text-align:center;color:#fff;font-weight:bold;font-size:11.5px;line-height:14.1px;">Chemo + Pembro<br>(n = 222)</div>
<div class="abs" style="left:130px;top:256.5px;font-size:11.5px;font-weight:bold;color:#1a1a1a;line-height:13px;">Number of OS events</div>
<div class="abs" style="left:130px;top:278.1px;font-size:11.5px;font-weight:bold;color:#1a1a1a;line-height:13px;">Median OS, mo (95% CI)</div>
<div class="abs" style="left:146px;top:300.3px;font-size:11.5px;color:#1a1a1a;line-height:13px;">HR (95% CI)</div>
<div class="abs" style="left:312px;top:256px;width:133px;text-align:center;font-size:11.5px;color:#1a1a1a;line-height:13px;">53</div>
<div class="abs" style="left:445px;top:256px;width:135px;text-align:center;font-size:11.5px;color:#1a1a1a;line-height:13px;">61</div>
<div class="abs" style="left:312px;top:278.7px;width:133px;text-align:center;font-size:11.5px;color:#1a1a1a;line-height:13px;">NR (25.6-NR)</div>
<div class="abs" style="left:445px;top:278.7px;width:135px;text-align:center;font-size:11.5px;color:#1a1a1a;line-height:13px;">NR (NR-NR)</div>
<div class="abs" style="left:312px;top:300.8px;width:268px;text-align:center;font-size:11.5px;color:#1a1a1a;line-height:13px;">0.89 (0.62-1.29)</div>

<!-- callout -->
<div class="abs" style="left:592px;top:255.8px;width:423.5px;height:51px;background:#3f5b87;border-radius:8px;"></div>
<div class="abs" style="left:594.5px;top:265.3px;width:423px;text-align:center;color:#fff;font-size:16px;line-height:18.5px;">81% of patients who received any subsequent treatment<br>after discontinuation of chemo + pembro received SG<span style="font-size:11px;position:relative;top:-3.5px;line-height:0;">a</span></div>

<!-- bottom box -->
<div class="abs" style="left:3.3px;top:409.7px;width:994px;height:65.6px;background:#2b4162;border-radius:10px;"></div>
<div class="abs" style="left:3.3px;top:418.5px;width:994px;text-align:center;color:#fff;font-size:20.7px;line-height:25.2px;">OS data were immature (maturity rate, 26%), however,<br>a positive trend in improvement was observed for SG + pembro vs chemo + pembro</div>

<!-- footnotes -->
<div class="abs" style="left:7.3px;top:484.1px;font-size:8.07px;line-height:9.6px;color:#1c2336;white-space:nowrap;">Data cutoff date: March 3, 2025. Median follow-up was 14.0 months (range, 0.1-28.6).<br><span style="font-size:5px;vertical-align:top;position:relative;top:-1px">a</span>Of the 96 patients who received SG monotherapy as subsequent anticancer therapy, 77 received it as part of the protocol-specified crossover after meeting all crossover eligibility criteria, including BICR-verification of disease progression; the remaining 19 patients received<br>subsequent SG monotherapy as commercial supply.<br>2L, second line; chemo, chemotherapy; HR, hazard ratio; pembro, pembrolizumab; NR, not reached; OS, overall survival; SG, sacituzumab govitecan.</div>
</body></html>
